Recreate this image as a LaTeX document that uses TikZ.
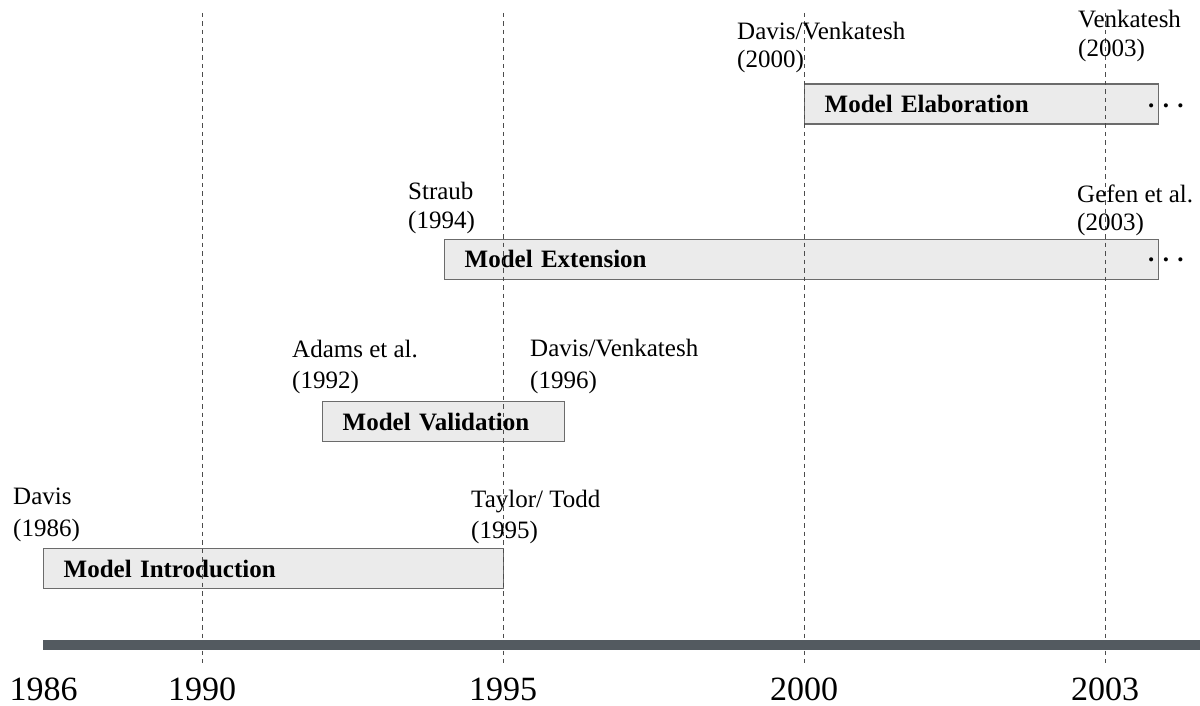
\documentclass[tikz,border=0pt]{standalone}
\usepackage{fontspec}
\setmainfont{Liberation Serif}
\begin{document}
\begin{tikzpicture}[x=1pt,y=-1pt,
  lbl/.style={anchor=base west, inner sep=0pt, font=\fontsize{25}{31}\selectfont},
  yr/.style={anchor=base, inner sep=0pt, font=\fontsize{34}{40}\selectfont},
  phase/.style={draw=black!58, line width=1.3pt, fill=black!8, anchor=north west,
    inner xsep=20pt, inner ysep=0pt, minimum height=40pt, align=left,
    font=\fontsize{25}{30}\selectfont\bfseries},
  dots/.style={anchor=base west, inner sep=0pt, font=\fontsize{25}{30}\selectfont\bfseries},
  gridline/.style={draw=black!70, line width=0.9pt, dash pattern=on 4.5pt off 4pt}
]
\useasboundingbox (0,0) rectangle (1200,706);
\definecolor{axiscol}{HTML}{535A60}

% phase boxes
\node[phase, text width=420pt] (intro) at (43,548) {Model Introduction};
\node[phase, text width=202pt] (valid) at (322,401) {Model Validation};
\node[phase, text width=674pt] (ext) at (444,238.5) {Model Extension};
\node[phase, text width=314pt] (elab) at (804,83.5) {Model Elaboration};

% continuation dots
\node[dots] (dotsElab) at (1148,108) {. . .};
\node[dots] (dotsExt) at (1148,261) {. . .};

% grid lines
\foreach \n/\x in {g1990/202, g1995/503, g2000/804, g2003/1105} {
  \coordinate (\n t) at (\x,13);
  \coordinate (\n b) at (\x,663);
  \draw[gridline] (\n t) -- (\n b);
}

% axis
\coordinate (axL) at (43,645);
\coordinate (axR) at (1200,645);
\draw[draw=axiscol, line width=9.5pt] (axL) -- (axR);

% year labels
\node[yr] (y1986) at (43.5,700) {1986};
\node[yr] (y1990) at (202,700) {1990};
\node[yr] (y1995) at (503,700) {1995};
\node[yr] (y2000) at (804,700) {2000};
\node[yr] (y2003) at (1105,700) {2003};

% author labels
\node[lbl] (davisA) at (13,504) {Davis};
\node[lbl] (davisY) at (13,536) {(1986)};
\node[lbl] (taylorA) at (471,507) {Taylor/ Todd};
\node[lbl] (taylorY) at (471,538) {(1995)};
\node[lbl] (adamsA) at (292,357) {Adams et al.};
\node[lbl] (adamsY) at (292,388) {(1992)};
\node[lbl] (dv96A) at (530,356) {Davis/Venkatesh};
\node[lbl] (dv96Y) at (530,388) {(1996)};
\node[lbl] (straubA) at (408,200) {Straub};
\node[lbl] (straubY) at (408,228) {(1994)};
\node[lbl] (gefenA) at (1077,202) {Gefen et al.};
\node[lbl] (gefenY) at (1077,230) {(2003)};
\node[lbl] (dv00A) at (737,40) {Davis/Venkatesh};
\node[lbl] (dv00Y) at (737,68) {(2000)};
\node[lbl] (venkA) at (1078,28) {Venkatesh};
\node[lbl] (venkY) at (1078,57) {(2003)};
\end{tikzpicture}
\end{document}
